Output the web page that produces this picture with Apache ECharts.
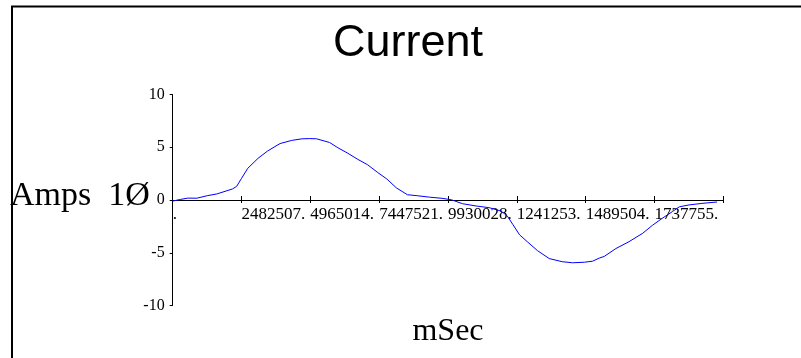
<!DOCTYPE html>
<html>
<head>
<meta charset="utf-8">
<script src="https://cdn.jsdelivr.net/npm/echarts@6/dist/echarts.min.js"></script>
<style>html,body{margin:0;padding:0;background:#fff}#c{width:801px;height:358px}</style>
</head>
<body>
<div id="c"></div>
<script>
// x-axis tick labels (one per tick, tick units 0..8)
const tickLabels = ['.', '2482507.', '4965014.', '7447521.', '9930028.', '1241253.', '1489504.', '1737755.', ''];
const yTicks = [-10, -5, 0, 5, 10];
// sample times, in x-axis tick units
const sampleTimes = [0, 0.11, 0.22, 0.35, 0.51, 0.64, 0.76, 0.87, 0.93, 1.0, 1.09, 1.24, 1.38, 1.56, 1.73, 1.88, 1.99, 2.09, 2.28, 2.4, 2.54, 2.69, 2.83, 2.98, 3.11, 3.25, 3.41, 3.56, 3.73, 3.91, 4.05, 4.21, 4.41, 4.6, 4.77, 4.86, 4.94, 5.04, 5.16, 5.3, 5.47, 5.66, 5.81, 5.98, 6.1, 6.2, 6.27, 6.44, 6.63, 6.83, 6.97, 7.11, 7.26, 7.36, 7.5, 7.69, 7.91];
// current, Amps 1Ø
const ampsValues = [-0.1, 0.05, 0.18, 0.17, 0.42, 0.57, 0.82, 1.05, 1.3, 2.05, 3.0, 3.95, 4.65, 5.35, 5.65, 5.8, 5.82, 5.8, 5.45, 4.95, 4.45, 3.85, 3.35, 2.6, 2.0, 1.15, 0.5, 0.4, 0.27, 0.16, 0.02, -0.35, -0.57, -0.73, -1.05, -1.5, -2.3, -3.3, -4.0, -4.8, -5.55, -5.85, -5.95, -5.9, -5.8, -5.5, -5.35, -4.6, -3.95, -3.15, -2.4, -1.75, -1.1, -0.65, -0.47, -0.32, -0.19];

const serif = "'Liberation Serif', 'Times New Roman', serif";
const chart = echarts.init(document.getElementById('c'), null, {renderer: 'canvas'});
const seriesData = sampleTimes.map((t, i) => [t, ampsValues[i]]);
const zeroOffset = -105.5;

chart.setOption({
  animation: false,
  backgroundColor: '#fff',
  graphic: [{
    type: 'rect', z: -1,
    shape: {x: 12, y: 6.5, width: 900, height: 500},
    style: {fill: 'none', stroke: '#000', lineWidth: 2}
  }],
  title: [{
    text: 'Current', left: 328, top: 16,
    textStyle: {fontFamily: "'Liberation Sans', Arial, sans-serif", fontSize: 45, fontWeight: 'normal', color: '#000'}
  }, {
    text: 'Amps  1Ø', left: 10, top: 179, padding: 0,
    textStyle: {fontFamily: serif, fontSize: 34, fontWeight: 'normal', color: '#000'}
  }],
  grid: {left: 172.7, right: 77.7, top: 94.5, bottom: 52.5, containLabel: false, outerBoundsMode: 'none'},
  xAxis: [{
    type: 'value', min: 0, max: 8, interval: 1, position: 'bottom', offset: zeroOffset,
    name: 'mSec', nameLocation: 'middle', nameGap: 116, nameMoveOverlap: false,
    nameTextStyle: {fontFamily: serif, fontSize: 32, color: '#000'},
    axisLine: {onZero: false, lineStyle: {color: '#000', width: 1}},
    axisTick: {show: true, length: 3, lineStyle: {color: '#000'}},
    axisLabel: {
      show: true, margin: 6, align: 'left', color: '#000', fontFamily: serif, fontSize: 17,
      formatter: v => tickLabels[Math.round(v)] || ''
    },
    splitLine: {show: false}
  }, {
    type: 'value', min: 0, max: 8, interval: 1, position: 'bottom', offset: zeroOffset,
    axisLine: {show: false, onZero: false},
    axisTick: {show: true, inside: true, length: 4, lineStyle: {color: '#000'}},
    axisLabel: {show: false},
    splitLine: {show: false}
  }],
  yAxis: {
    type: 'value', min: -10, max: 10, interval: 5,
    axisLine: {show: true, onZero: false, lineStyle: {color: '#000', width: 1}},
    axisTick: {show: true, length: 3, lineStyle: {color: '#000'}},
    axisLabel: {margin: 8, color: '#000', fontFamily: serif, fontSize: 16,
      formatter: v => yTicks.includes(v) ? String(v) : ''},
    splitLine: {show: false}
  },
  series: [{
    type: 'line', xAxisIndex: 0, yAxisIndex: 0,
    data: seriesData, showSymbol: false, symbol: 'none', smooth: false,
    lineStyle: {color: '#0000FF', width: 1}
  }]
});
</script>
</body>
</html>
